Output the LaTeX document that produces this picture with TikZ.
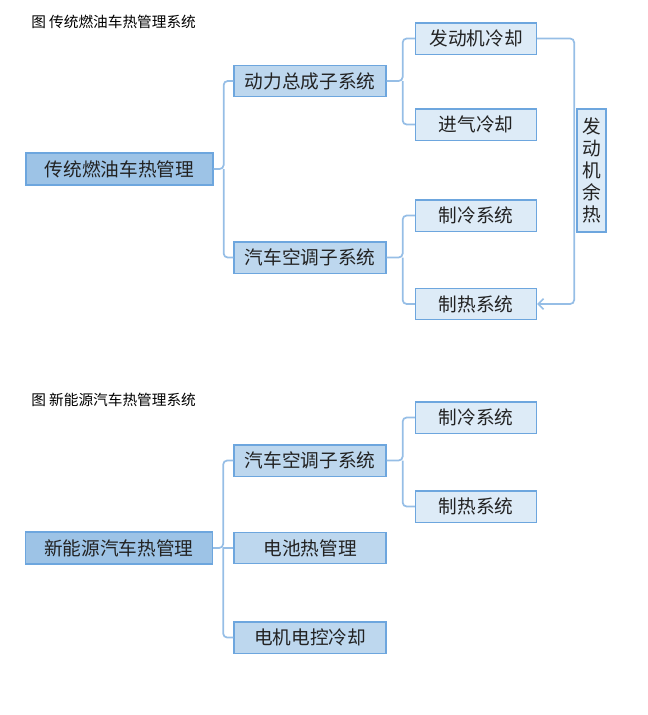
\documentclass[tikz,border=0pt]{standalone}
\usepackage{fontspec}
\setmainfont{Noto Sans CJK SC}
\usetikzlibrary{arrows.meta}
\definecolor{boxline}{RGB}{109,166,222}
\definecolor{connline}{RGB}{150,190,230}
\definecolor{rootfill}{RGB}{157,195,230}
\definecolor{midfill}{RGB}{189,215,238}
\definecolor{leaffill}{RGB}{221,235,247}
\definecolor{txt}{RGB}{34,34,34}
\tikzset{
  box/.style={draw=boxline, line width=1pt, rectangle, inner sep=0pt, text=txt,
    font=\fontsize{14pt}{16.5pt}\selectfont},
  rootbox/.style={box, fill=rootfill, minimum width=140.25pt, minimum height=24pt},
  midbox/.style={box, fill=midfill, minimum width=114pt, minimum height=23.5pt},
  leafbox/.style={box, fill=leaffill, minimum width=90.75pt, minimum height=23.5pt},
  conn/.style={draw=connline, line width=1.3pt, rounded corners=3pt},
  ttl/.style={anchor=west, inner sep=0pt, text=black, font=\fontsize{11pt}{13pt}\selectfont}
}
\begin{document}
\begin{tikzpicture}[x=0.75pt, y=-0.75pt]
\useasboundingbox (0,0) rectangle (648,715);
% ---------- top diagram ----------
\node[ttl] (t1) at (31,22) {图 传统燃油车热管理系统};
\node[rootbox] (root1) at (119.5,169) {传统燃油车热管理};
\node[midbox] (pt) at (310,81) {动力总成子系统};
\node[midbox] (ac1) at (310,257.5) {汽车空调子系统};
\node[leafbox] (ec) at (476,38.5) {发动机冷却};
\node[leafbox] (ic) at (476,124.5) {进气冷却};
\node[leafbox] (cool1) at (476,215.5) {制冷系统};
\node[leafbox] (heat1) at (476,304) {制热系统};
\node[box, fill=leaffill, minimum width=21.75pt, minimum height=92.25pt, align=center] (ew) at (591.5,170.5) {发\\动\\机\\余\\热};

\draw[conn] (root1.east) -- ++(10,0) coordinate (j1) |- (pt.west);
\draw[conn] (j1) |- (ac1.west);
\draw[conn] (pt.east) -- ++(16,0) coordinate (j2) |- (ec.west);
\draw[conn] (j2) |- (ic.west);
\draw[conn] (ac1.east) -- ++(16,0) coordinate (j3) |- (cool1.west);
\draw[conn] (j3) |- (heat1.west);
\draw[conn, -{Straight Barb[length=4pt,width=8pt,line width=1.2pt]}] (ec.east) -- ++(37,0) |- (heat1.east);

% ---------- bottom diagram ----------
\node[ttl] (t2) at (31,400) {图 新能源汽车热管理系统};
\node[rootbox] (root2) at (119,548) {新能源汽车热管理};
\node[midbox] (ac2) at (310,460.5) {汽车空调子系统};
\node[midbox] (bat) at (310,548) {电池热管理};
\node[midbox] (mot) at (310,637.5) {电机电控冷却};
\node[leafbox] (cool2) at (476,417.5) {制冷系统};
\node[leafbox] (heat2) at (476,506.5) {制热系统};

\draw[conn] (root2.east) -- ++(10,0) coordinate (j4) |- (ac2.west);
\draw[conn] (j4) -- (bat.west);
\draw[conn] (j4) |- (mot.west);
\draw[conn] (ac2.east) -- ++(16,0) coordinate (j5) |- (cool2.west);
\draw[conn] (j5) |- (heat2.west);
\end{tikzpicture}
\end{document}
